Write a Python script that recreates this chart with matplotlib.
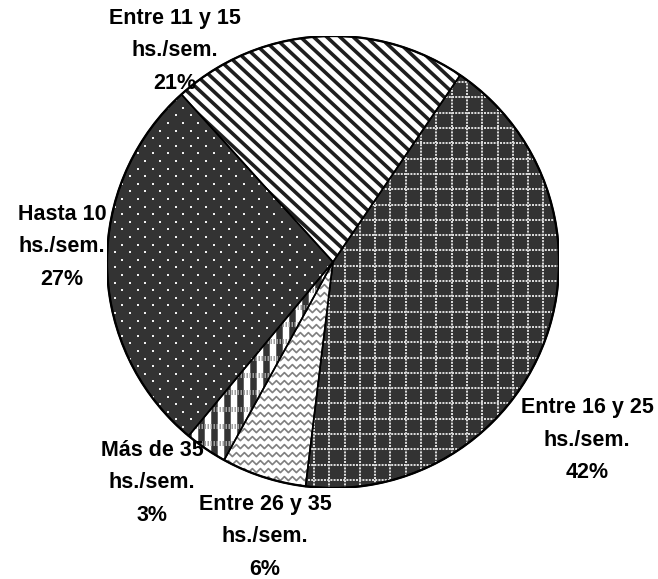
import numpy as np
import matplotlib
matplotlib.use('Agg')
import matplotlib.pyplot as plt
from matplotlib.collections import LineCollection
from matplotlib.patches import Wedge, Circle

# ---- data ----
categories = ['Hasta 10', 'Entre 11 y 15', 'Entre 16 y 25', 'Entre 26 y 35', 'Más de 35']
unit_label = 'hs./sem.'
values = [27, 21, 42, 6, 3]

W, H = 658, 579
fig = plt.figure(figsize=(W / 100, H / 100), dpi=100)
cx, cy, R = 333, 262, 226
ax = fig.add_axes([(cx - R) / W, (H - cy - R) / H, 2 * R / W, 2 * R / H])

facecolors = ['#333333', 'white', '#333333', 'white', 'white']
wedges, _ = ax.pie(values, startangle=230.3, counterclock=False, radius=1,
                   colors=facecolors, wedgeprops=dict(linewidth=0))
ax.set_xlim(-1, 1)
ax.set_ylim(-1, 1)
ax.axis('off')

px = 1.0 / R          # data units per pixel
pt = 0.72             # points per pixel
E = 1.1


# Hasta 10 : staggered white dots
def dots(w):
    sx, sy = 15.2 * px, 7.6 * px
    pts = []
    for j, yy in enumerate(np.arange(-E, E, sy)):
        off = (sx / 2) if j % 2 else 0
        for xx in np.arange(-E + off, E, sx):
            pts.append((xx, yy))
    pts = np.array(pts)
    sc = ax.scatter(pts[:, 0], pts[:, 1], s=2.6, marker='s', c='#f0f0f0',
                    linewidths=0, zorder=2)
    sc.set_clip_path(w)


# Entre 11 y 15 : diagonal dark stripes
def stripes(w):
    ang = np.deg2rad(-43)
    d = np.array([np.cos(ang), np.sin(ang)])
    n = np.array([-d[1], d[0]])
    sp = 9.0 * px
    segs = []
    for k in np.arange(-1.6, 1.6, sp):
        c = n * k
        segs.append([c - d * 1.6, c + d * 1.6])
    lc = LineCollection(segs, colors='#1e1e1e', linewidths=3.6 * pt, zorder=2)
    ax.add_collection(lc)
    lc.set_clip_path(w)


# Entre 16 y 25 : dotted light grid on dark
def grid(w):
    s = 15.3 * px
    ks = np.arange(-E, E, s)
    segs = [[(k, -E), (k, E)] for k in ks] + [[(-E, k), (E, k)] for k in ks]
    lc = LineCollection(segs, colors='#dadada', linewidths=2.0 * pt,
                        linestyles=[(0, (1.0, 0.6))], zorder=2)
    ax.add_collection(lc)
    lc.set_clip_path(w)


# Entre 26 y 35 : gray zigzag waves
def waves(w):
    sy = 8.0 * px
    wl = 8.0 * px
    amp = 2.0 * px
    xs = np.arange(-E, E, wl / 2)
    segs = []
    for yy in np.arange(-E, E, sy):
        ys = yy + amp * np.where(np.arange(len(xs)) % 2 == 0, 1, -1)
        segs.append(np.column_stack([xs, ys]))
    lc = LineCollection(segs, colors='#808080', linewidths=1.7 * pt, zorder=2)
    ax.add_collection(lc)
    lc.set_clip_path(w)


# Más de 35 : plaid
def plaid(w):
    s = 13.0 * px
    segs = [[(k, -E), (k, E)] for k in np.arange(-E, E, s)]
    lc = LineCollection(segs, colors='#333333', linewidths=6.5 * pt, zorder=2)
    ax.add_collection(lc)
    lc.set_clip_path(w)
    s2 = 17.0 * px
    segs2 = [[(-E, k), (E, k)] for k in np.arange(-E, E, s2)]
    lc2 = LineCollection(segs2, colors='#a0a0a0', linewidths=5.0 * pt,
                         linestyles=[(0, (0.3, 0.3))], zorder=3)
    ax.add_collection(lc2)
    lc2.set_clip_path(w)


for fn, w in zip([dots, stripes, grid, waves, plaid], wedges):
    fn(w)

# outlines on top
for w in wedges:
    ax.add_patch(Wedge(w.center, w.r, w.theta1, w.theta2, fill=False,
                       edgecolor='black', linewidth=1.6 * pt, zorder=5))
ax.add_patch(Circle((0, 0), 1, fill=False, edgecolor='black',
                    linewidth=2.3 * pt, zorder=6))

# labels (pixel positions of the middle line)
label_pos = [(62, 247), (175, 51), (587, 440), (265, 537), (152, 483)]
total = sum(values)
for name, v, (lx, ly) in zip(categories, values, label_pos):
    txt = f'{name}\n{unit_label}\n{round(100 * v / total)}%'
    ax.text((lx - cx) / R, (cy - ly) / R, txt, ha='center', va='center',
            fontsize=15.5, fontweight='bold', family=['Liberation Sans', 'DejaVu Sans'],
            linespacing=1.72, clip_on=False, zorder=7)

fig.savefig('out.png', dpi=100, facecolor='white')
